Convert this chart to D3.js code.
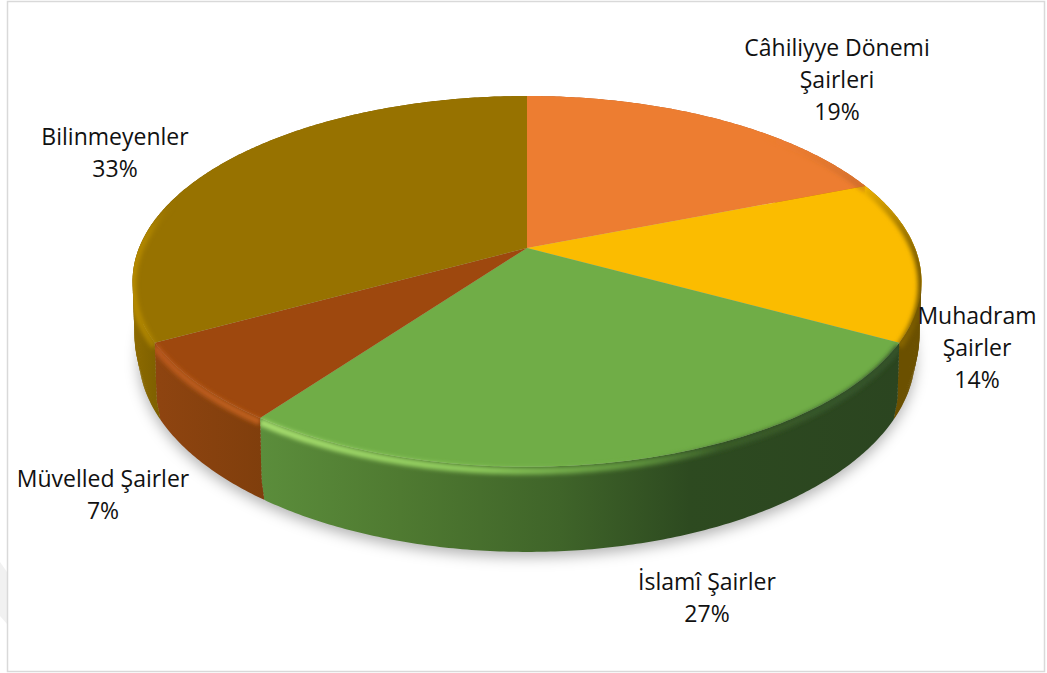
<!DOCTYPE html>
<html>
<head>
<meta charset="utf-8">
<script src="https://cdn.jsdelivr.net/npm/d3@7"></script>
<style>
  html, body { margin: 0; padding: 0; background: #fff; }
  svg { display: block; }
  text { font-family: "Open Sans", "Noto Sans", sans-serif; font-size: 23px; fill: #111; }
</style>
</head>
<body>
<script>
// Poets by period, in percent
const categories = ["Câhiliyye Dönemi Şairleri", "Muhadram Şairler", "İslamî Şairler", "Müvelled Şairler", "Bilinmeyenler"];
const shares = [19, 14, 27, 7, 33];
const labelLines = [["Câhiliyye Dönemi", "Şairleri"], ["Muhadram", "Şairler"], ["İslamî Şairler"], ["Müvelled Şairler"], ["Bilinmeyenler"]];
const topColors = ["#ED7D31", "#FBBC00", "#70AD47", "#9E480E", "#977200"];

const width = 1047, height = 673;

// Per-slice shading of the wall and of the bevelled rim: [x, colour, opacity]
const wallStops = [
  [[600, "#b5561c", 1], [900, "#b5561c", 1]],
  [[880, "#6b5000", 1], [930, "#6b5000", 1]],
  [[262, "#5b8d3b", 1], [400, "#4f7a31", 1], [560, "#3f6429", 1], [690, "#2d4a20", 1], [897, "#2b4520", 1]],
  [[160, "#8e4410", 1], [268, "#7f3e0c", 1]],
  [[129, "#8f6c00", 1], [160, "#7d5f00", 1]]
];
const rimStops = [
  [[760, "#ED7D31", 0], [870, "#a85a20", 0.5]],
  [[850, "#a37a00", 0], [900, "#8f6b00", 0.8], [925, "#6b5000", 1]],
  [[262, "#a9e070", 1], [480, "#8ecb5c", 1], [640, "#70AD47", 0.7], [720, "#3c5f2a", 0.9], [897, "#34532a", 1]],
  [[160, "#b9591a", 1], [268, "#c0611f", 1]],
  [[129, "#b88c00", 1], [150, "#b08600", 0.9], [175, "#977200", 0]]
];
// Text block centre and first baseline for each label
const labelPlacement = [[837, 56], [977, 324], [707, 590], [103, 487], [115, 145]];

// Perspective disc: t = 0 is the top face, t = 1 the bottom edge of the wall
const apex = { x: 527, y: 248 };
const tilt = 0.18;
const lerp = (a, b, t) => a + (b - a) * t;
const halfWidth = d3.scaleLinear().domain([0, 0.75, 1]).range([388, 386, 382]);
function project(angle, t) {
  const u = Math.sin(angle), v = -Math.cos(angle);
  const w = 1 - tilt * v;
  return [apex.x + halfWidth(t) * u / w, lerp(apex.y, 319, t) + lerp(179.4, 191, t) * v / w];
}

const svg = d3.select("body").append("svg").attr("width", width).attr("height", height);
const defs = svg.append("defs");
const blur = (id, s) => defs.append("filter").attr("id", id)
  .attr("x", "-20%").attr("y", "-20%").attr("width", "140%").attr("height", "140%")
  .append("feGaussianBlur").attr("stdDeviation", s);
blur("soft", 2.2);
blur("shadow", 7);

function gradient(id, stops) {
  const g = defs.append("linearGradient").attr("id", id)
    .attr("gradientUnits", "userSpaceOnUse")
    .attr("x1", stops[0][0]).attr("x2", stops[stops.length - 1][0]).attr("y1", 0).attr("y2", 0);
  const span = stops[stops.length - 1][0] - stops[0][0];
  stops.forEach(s => g.append("stop")
    .attr("offset", (s[0] - stops[0][0]) / span)
    .attr("stop-color", s[1]).attr("stop-opacity", s[2]));
}

const slices = d3.pie().sort(null).value(d => d)(shares);
const line = d3.line();
const arcPoints = (a0, a1, t) => {
  const n = Math.max(2, Math.ceil((a1 - a0) / 0.01));
  return d3.range(n + 1).map(i => project(a0 + (a1 - a0) * i / n, t));
};
const topPath = d => line([[apex.x, apex.y], ...arcPoints(d.startAngle, d.endAngle, 0)]) + "Z";
const band = (d, t0, t1) => line([...arcPoints(d.startAngle, d.endAngle, t0), ...arcPoints(d.startAngle, d.endAngle, t1).reverse()]) + "Z";
// The wall is swept downwards in thin overlapping bands so its outline follows the disc's bulge
const wallBands = d3.range(0, 1, 0.05).map(t => [t, Math.min(1, t + 0.08)]);

// Page frame and the faint mark in the left margin
svg.append("path").attr("fill", "#f1f1f1")
  .attr("d", line([[0, 562], [7, 572], [7, 624], [0, 616]]) + "Z");
svg.append("rect").attr("x", 7.5).attr("y", 1.5).attr("width", 1037).attr("height", 670)
  .attr("fill", "#fff").attr("stroke", "#d9d9d9").attr("stroke-width", 1.5);

// Soft shadow under the disc
svg.append("path").attr("filter", "url(#shadow)").attr("fill", "#000").attr("fill-opacity", 0.3)
  .attr("transform", "translate(0,5)")
  .attr("d", line(arcPoints(0, 2 * Math.PI, 1)) + "Z");

slices.forEach((d, i) => {
  gradient(`wall${i}`, wallStops[i]);
  gradient(`rim${i}`, rimStops[i]);
  const clip = defs.append("clipPath").attr("id", `clip${i}`);
  clip.append("path").attr("d", topPath(d));
  wallBands.forEach(([t0, t1]) => clip.append("path").attr("d", band(d, t0, t1)));
});

svg.append("g").selectAll("g").data(slices).join("g")
  .attr("fill", (d, i) => `url(#wall${i})`)
  .each(function (d) {
    d3.select(this).selectAll("path").data(wallBands).join("path")
      .attr("d", ([t0, t1]) => band(d, t0, t1));
  });
svg.append("g").selectAll("path").data(slices).join("path")
  .attr("d", topPath).attr("fill", (d, i) => topColors[i]);

// Bevel highlight following each slice's outer edge
svg.append("g").selectAll("g").data(slices).join("g")
  .attr("clip-path", (d, i) => `url(#clip${i})`)
  .append("path")
  .attr("d", d => line(arcPoints(d.startAngle, d.endAngle, 0.05)))
  .attr("fill", "none").attr("stroke", (d, i) => `url(#rim${i})`)
  .attr("stroke-width", 7).attr("filter", "url(#soft)");

// Labels: name lines followed by the share
const lineHeight = 32;
svg.append("g").selectAll("text").data(slices).join("text")
  .attr("text-anchor", "middle")
  .each(function (d, i) {
    const [x, y] = labelPlacement[i];
    [...labelLines[i], `${shares[i]}%`].forEach((s, k) => {
      d3.select(this).append("tspan").attr("x", x).attr("y", y + k * lineHeight).text(s);
    });
  });
</script>
</body>
</html>
